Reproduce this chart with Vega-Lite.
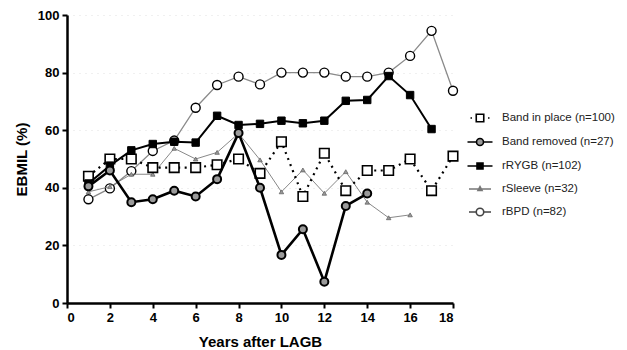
{
  "$schema": "https://vega.github.io/schema/vega-lite/v6.json",
  "width": 386,
  "height": 288,
  "autosize": {"type": "none"},
  "padding": {"left": 67, "top": 15, "right": 174, "bottom": 47},
  "background": "white",
  "config": {
    "view": {"stroke": null},
    "font": "Liberation Sans",
    "axis": {
      "domainColor": "black", "domainWidth": 2.5, "tickColor": "black", "tickWidth": 2, "tickSize": 5,
      "labelFont": "Liberation Sans", "labelFontWeight": "bold", "labelFontSize": 13, "labelColor": "black",
      "titleFont": "Liberation Sans", "titleFontWeight": "bold", "titleFontSize": 15, "titleColor": "black"
    }
  },
  "data": {"values": [
    {"s": "Band in place (n=100)", "year": 1, "v": 44}, {"s": "Band in place (n=100)", "year": 2, "v": 50}, {"s": "Band in place (n=100)", "year": 3, "v": 50}, {"s": "Band in place (n=100)", "year": 4, "v": 47}, {"s": "Band in place (n=100)", "year": 5, "v": 47}, {"s": "Band in place (n=100)", "year": 6, "v": 47}, {"s": "Band in place (n=100)", "year": 7, "v": 48}, {"s": "Band in place (n=100)", "year": 8, "v": 50}, {"s": "Band in place (n=100)", "year": 9, "v": 45}, {"s": "Band in place (n=100)", "year": 10, "v": 56}, {"s": "Band in place (n=100)", "year": 11, "v": 37}, {"s": "Band in place (n=100)", "year": 12, "v": 52}, {"s": "Band in place (n=100)", "year": 13, "v": 39}, {"s": "Band in place (n=100)", "year": 14, "v": 46}, {"s": "Band in place (n=100)", "year": 15, "v": 46}, {"s": "Band in place (n=100)", "year": 16, "v": 50}, {"s": "Band in place (n=100)", "year": 17, "v": 39}, {"s": "Band in place (n=100)", "year": 18, "v": 51},
    {"s": "Band removed (n=27)", "year": 1, "v": 40.5}, {"s": "Band removed (n=27)", "year": 2, "v": 46}, {"s": "Band removed (n=27)", "year": 3, "v": 35}, {"s": "Band removed (n=27)", "year": 4, "v": 36}, {"s": "Band removed (n=27)", "year": 5, "v": 39}, {"s": "Band removed (n=27)", "year": 6, "v": 37}, {"s": "Band removed (n=27)", "year": 7, "v": 43}, {"s": "Band removed (n=27)", "year": 8, "v": 59}, {"s": "Band removed (n=27)", "year": 9, "v": 40}, {"s": "Band removed (n=27)", "year": 10, "v": 16.7}, {"s": "Band removed (n=27)", "year": 11, "v": 25.6}, {"s": "Band removed (n=27)", "year": 12, "v": 7.4}, {"s": "Band removed (n=27)", "year": 13, "v": 33.7}, {"s": "Band removed (n=27)", "year": 14, "v": 38},
    {"s": "rRYGB (n=102)", "year": 1, "v": 41.5}, {"s": "rRYGB (n=102)", "year": 2, "v": 47.7}, {"s": "rRYGB (n=102)", "year": 3, "v": 53}, {"s": "rRYGB (n=102)", "year": 4, "v": 55.2}, {"s": "rRYGB (n=102)", "year": 5, "v": 56}, {"s": "rRYGB (n=102)", "year": 6, "v": 55.7}, {"s": "rRYGB (n=102)", "year": 7, "v": 65}, {"s": "rRYGB (n=102)", "year": 8, "v": 61.8}, {"s": "rRYGB (n=102)", "year": 9, "v": 62.2}, {"s": "rRYGB (n=102)", "year": 10, "v": 63.3}, {"s": "rRYGB (n=102)", "year": 11, "v": 62.4}, {"s": "rRYGB (n=102)", "year": 12, "v": 63.3}, {"s": "rRYGB (n=102)", "year": 13, "v": 70.2}, {"s": "rRYGB (n=102)", "year": 14, "v": 70.5}, {"s": "rRYGB (n=102)", "year": 15, "v": 78.8}, {"s": "rRYGB (n=102)", "year": 16, "v": 72.2}, {"s": "rRYGB (n=102)", "year": 17, "v": 60.4},
    {"s": "rSleeve (n=32)", "year": 1, "v": 38.6}, {"s": "rSleeve (n=32)", "year": 2, "v": 40.4}, {"s": "rSleeve (n=32)", "year": 3, "v": 44.7}, {"s": "rSleeve (n=32)", "year": 4, "v": 44.7}, {"s": "rSleeve (n=32)", "year": 5, "v": 53.7}, {"s": "rSleeve (n=32)", "year": 6, "v": 50}, {"s": "rSleeve (n=32)", "year": 7, "v": 52.3}, {"s": "rSleeve (n=32)", "year": 8, "v": 58.9}, {"s": "rSleeve (n=32)", "year": 9, "v": 49.7}, {"s": "rSleeve (n=32)", "year": 10, "v": 38.6}, {"s": "rSleeve (n=32)", "year": 11, "v": 46.2}, {"s": "rSleeve (n=32)", "year": 12, "v": 38.1}, {"s": "rSleeve (n=32)", "year": 13, "v": 45.6}, {"s": "rSleeve (n=32)", "year": 14, "v": 35}, {"s": "rSleeve (n=32)", "year": 15, "v": 29.6}, {"s": "rSleeve (n=32)", "year": 16, "v": 30.6},
    {"s": "rBPD (n=82)", "year": 1, "v": 36}, {"s": "rBPD (n=82)", "year": 2, "v": 39.8}, {"s": "rBPD (n=82)", "year": 3, "v": 45.8}, {"s": "rBPD (n=82)", "year": 4, "v": 52.8}, {"s": "rBPD (n=82)", "year": 5, "v": 56.4}, {"s": "rBPD (n=82)", "year": 6, "v": 67.8}, {"s": "rBPD (n=82)", "year": 7, "v": 75.7}, {"s": "rBPD (n=82)", "year": 8, "v": 78.6}, {"s": "rBPD (n=82)", "year": 9, "v": 75.9}, {"s": "rBPD (n=82)", "year": 10, "v": 80}, {"s": "rBPD (n=82)", "year": 11, "v": 80}, {"s": "rBPD (n=82)", "year": 12, "v": 80}, {"s": "rBPD (n=82)", "year": 13, "v": 78.6}, {"s": "rBPD (n=82)", "year": 14, "v": 78.6}, {"s": "rBPD (n=82)", "year": 15, "v": 80}, {"s": "rBPD (n=82)", "year": 16, "v": 85.8}, {"s": "rBPD (n=82)", "year": 17, "v": 94.5}, {"s": "rBPD (n=82)", "year": 18, "v": 73.7}
  ]},
  "encoding": {
    "x": {"field": "year", "type": "quantitative", "scale": {"domain": [0, 18], "nice": false, "zero": false},
      "axis": {"title": "Years after LAGB", "values": [0, 2, 4, 6, 8, 10, 12, 14, 16, 18], "grid": false, "labelPadding": 3, "titlePadding": 10}},
    "y": {"field": "v", "type": "quantitative", "scale": {"domain": [0, 100], "nice": false},
      "axis": {"title": "EBMIL (%)", "values": [0, 20, 40, 60, 80, 100], "grid": true, "gridColor": "#e0e0e0", "gridDash": [1, 5], "gridWidth": 1, "labelPadding": 3, "titlePadding": 8}}
  },
  "layer": [
    {"transform": [{"filter": "datum.s == 'rBPD (n=82)'"}], "mark": {"type": "line", "stroke": "#8a8a8a", "strokeWidth": 1.3}},
    {"transform": [{"filter": "datum.s == 'rBPD (n=82)'"}], "mark": {"type": "point", "shape": "circle", "size": 81, "filled": true, "fill": "white", "stroke": "black", "strokeWidth": 1.4, "opacity": 1}},
    {"transform": [{"filter": "datum.s == 'rSleeve (n=32)'"}], "mark": {"type": "line", "stroke": "#7a7a7a", "strokeWidth": 0.9}},
    {"transform": [{"filter": "datum.s == 'rSleeve (n=32)'"}], "mark": {"type": "point", "shape": "triangle-up", "size": 20, "filled": true, "fill": "#999", "stroke": "#666", "strokeWidth": 0.8, "opacity": 1}},
    {"transform": [{"filter": "datum.s == 'Band in place (n=100)'"}], "mark": {"type": "line", "stroke": "black", "strokeWidth": 2.2, "strokeDash": [2, 4.5]}},
    {"transform": [{"filter": "datum.s == 'Band in place (n=100)'"}], "mark": {"type": "point", "shape": "square", "size": 90, "filled": true, "fill": "white", "stroke": "black", "strokeWidth": 1.6, "opacity": 1}},
    {"transform": [{"filter": "datum.s == 'rRYGB (n=102)'"}], "mark": {"type": "line", "stroke": "black", "strokeWidth": 2}},
    {"transform": [{"filter": "datum.s == 'rRYGB (n=102)'"}], "mark": {"type": "point", "shape": "square", "size": 55, "filled": true, "fill": "black", "stroke": "black", "strokeWidth": 1, "opacity": 1}},
    {"transform": [{"filter": "datum.s == 'Band removed (n=27)'"}], "mark": {"type": "line", "stroke": "black", "strokeWidth": 2.6}},
    {"transform": [{"filter": "datum.s == 'Band removed (n=27)'"}], "mark": {"type": "point", "shape": "circle", "size": 64, "filled": true, "fill": "#9a9a9a", "stroke": "black", "strokeWidth": 2, "opacity": 1}},
    {"transform": [{"filter": "datum.year < 0"}], "mark": {"type": "point", "filled": true, "opacity": 1},
      "encoding": {
        "shape": {"field": "s", "type": "nominal",
          "scale": {"domain": ["Band in place (n=100)", "Band removed (n=27)", "rRYGB (n=102)", "rSleeve (n=32)", "rBPD (n=82)"],
            "range": ["M-1.9,0h0.3M1.6,0h0.3M-0.75,-0.75h1.5v1.5h-1.5z", "M-2.5,0H-0.7M0.7,0H2.5M-0.7,0A0.7,0.7,0,1,0,0.7,0A0.7,0.7,0,1,0,-0.7,0Z", "M-2.5,0H2.5M-0.6,-0.6h1.2v1.2h-1.2z", "M-2.2,0H2.2M0,-0.45L0.4,0.3L-0.4,0.3Z", "M-2.2,0H-0.75M0.75,0H2.2M-0.75,0A0.75,0.75,0,1,0,0.75,0A0.75,0.75,0,1,0,-0.75,0Z"]},
          "legend": {"title": null, "orient": "none", "legendX": 407, "legendY": 97, "symbolSize": 100, "labelOffset": 16, "labelFont": "Liberation Sans", "labelFontSize": 11.5, "labelColor": "#222", "rowPadding": 10, "symbolStrokeWidth": 1.6, "labelLimit": 200}},
        "fill": {"field": "s", "type": "nominal",
          "scale": {"domain": ["Band in place (n=100)", "Band removed (n=27)", "rRYGB (n=102)", "rSleeve (n=32)", "rBPD (n=82)"], "range": ["white", "#9a9a9a", "black", "#999", "white"]}},
        "stroke": {"field": "s", "type": "nominal",
          "scale": {"domain": ["Band in place (n=100)", "Band removed (n=27)", "rRYGB (n=102)", "rSleeve (n=32)", "rBPD (n=82)"], "range": ["black", "black", "black", "#777", "#444"]}}
      }}
  ]
}
